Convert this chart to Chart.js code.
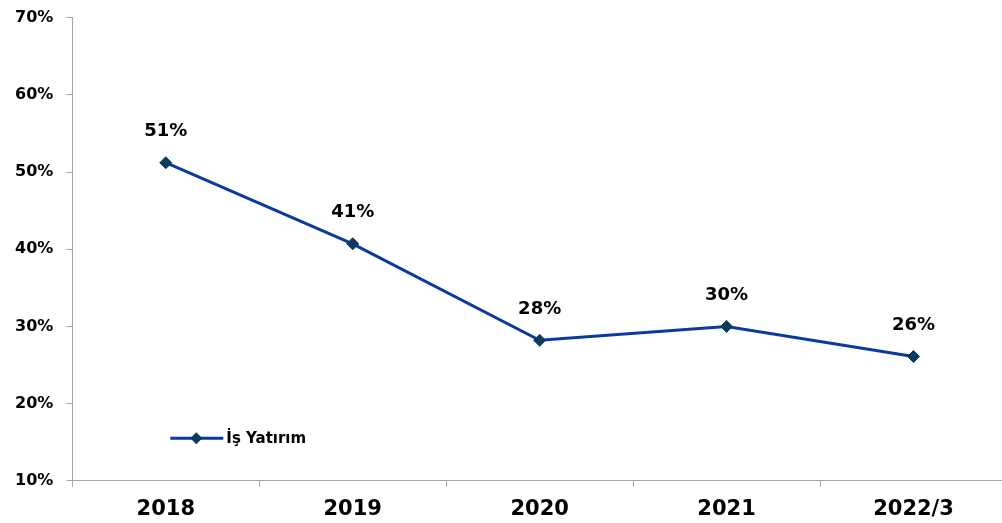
<!DOCTYPE html>
<html>
<head>
<meta charset="utf-8">
<script src="https://cdn.jsdelivr.net/npm/chart.js@4"></script>
<style>
  html, body { margin: 0; padding: 0; background: #fff; overflow: hidden; }
  #wrap { width: 1002px; height: 523px; position: relative; overflow: hidden; }
  #line-chart { position: absolute; left: 0; top: -5px; }
</style>
</head>
<body>
<div id="wrap"><canvas id="line-chart" width="1007" height="537"></canvas></div>
<script>
// data
var years = ["2018", "2019", "2020", "2021", "2022/3"];
var shareValues = [51.2, 40.7, 28.2, 30.0, 26.1];
var shareLabels = ["51%", "41%", "28%", "30%", "26%"];
var seriesName = "İş Yatırım";

var lineColor = "#0A3AA0";
var markerColor = "#0B3A5E";
var axisColor = "#a6a6a6";

// draws value labels above points and the legend inside the plot
var labelPlugin = {
  id: "labels",
  afterDatasetsDraw: function (chart) {
    var ctx = chart.ctx;
    var meta = chart.getDatasetMeta(0);
    ctx.save();
    ctx.font = "bold 18px 'DejaVu Sans'";
    ctx.fillStyle = "#000";
    ctx.textAlign = "center";
    ctx.textBaseline = "middle";
    meta.data.forEach(function (pt, i) {
      ctx.fillText(shareLabels[i], pt.x, pt.y - 31);
    });

    // legend
    var area = chart.chartArea;
    var lx = area.left + 98;
    var ly = chart.scales.y.getPixelForValue(15.5);
    ctx.strokeStyle = lineColor;
    ctx.lineWidth = 3;
    ctx.beginPath();
    ctx.moveTo(lx, ly);
    ctx.lineTo(lx + 53, ly);
    ctx.stroke();
    ctx.fillStyle = markerColor;
    ctx.beginPath();
    ctx.moveTo(lx + 26, ly - 6);
    ctx.lineTo(lx + 32, ly);
    ctx.lineTo(lx + 26, ly + 6);
    ctx.lineTo(lx + 20, ly);
    ctx.closePath();
    ctx.fill();
    ctx.fillStyle = "#000";
    ctx.textAlign = "left";
    ctx.font = "bold 15px 'DejaVu Sans'";
    ctx.fillText(seriesName, lx + 56, ly + 1);
    ctx.restore();
  }
};

var ctx = document.getElementById("line-chart").getContext("2d");
var config = {
  type: "line",
  data: {
    labels: years,
    datasets: [
      {
        label: seriesName,
        data: shareValues,
        borderColor: lineColor,
        borderWidth: 3,
        pointStyle: "rectRot",
        pointRadius: 6,
        pointHoverRadius: 6,
        pointBackgroundColor: markerColor,
        pointBorderColor: markerColor,
        pointBorderWidth: 1,
        tension: 0,
      },
    ],
  },
  options: {
    responsive: false,
    animation: false,
    scales: {
      x: {
        offset: true,
        grid: {
          offset: true,
          drawOnChartArea: false,
          drawTicks: true,
          tickLength: 6,
          color: axisColor,
        },
        border: { color: axisColor, width: 1 },
        ticks: {
          color: "#000",
          padding: 10,
          font: { family: "DejaVu Sans", size: 21, weight: "bold" },
        },
      },
      y: {
        min: 10,
        max: 70,
        grid: {
          drawOnChartArea: false,
          tickLength: 6,
          color: axisColor,
        },
        border: { color: axisColor, width: 1 },
        ticks: {
          stepSize: 10,
          color: "#000",
          padding: 13,
          font: { family: "DejaVu Sans", size: 16, weight: "bold" },
          callback: function (value) {
            return value + "%";
          },
        },
      },
    },
    plugins: {
      legend: { display: false },
      tooltip: { enabled: false },
    },
    layout: { autoPadding: false, padding: { top: 0, right: 0, left: 2, bottom: 0 } },
  },
  plugins: [labelPlugin],
};

chart = new Chart(ctx, config);
</script>
</body>
</html>
